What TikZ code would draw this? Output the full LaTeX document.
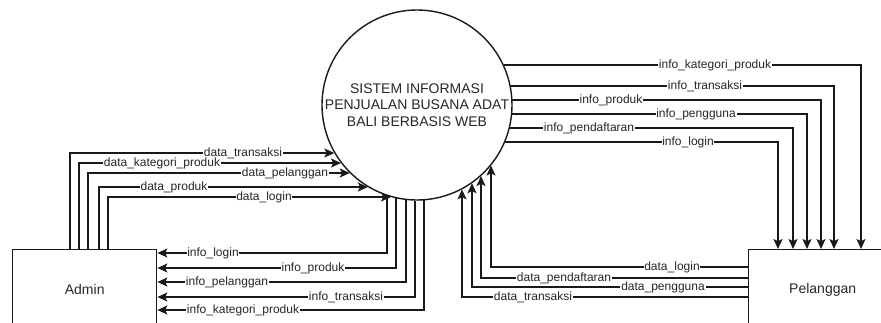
\documentclass[tikz,border=0pt]{standalone}
\usepackage{fontspec}
\setmainfont{Liberation Sans}
\usetikzlibrary{arrows.meta,calc}
\begin{document}
\begin{tikzpicture}[x=1pt,y=-1pt,
  flow/.style={draw=black!90, line width=1.4pt, -{Stealth[length=10pt,width=9pt,inset=2.2pt]}},
  lbl/.style={fill=white, inner sep=0.8pt, font=\fontsize{12}{14}\selectfont, text=black!85},
  entity/.style={draw=black!90, line width=1.4pt, anchor=north west, minimum height=80pt, inner sep=0pt, font=\fontsize{14}{16}\selectfont, text=black!85}
]
\useasboundingbox (0,0) rectangle (881,322);
\clip (0,0) rectangle (881,322);
\def\ccx{417}\def\ccy{105}\def\crad{95.6}

\node[draw=black!90, circle, line width=1.4pt, minimum size=190pt, inner sep=0pt, align=center,
      font=\fontsize{14}{16.5}\selectfont, text=black!85] (sys) at (417,105)
      {SISTEM INFORMASI\\PENJUALAN BUSANA ADAT\\BALI BERBASIS WEB};
\node[entity, minimum width=144pt] (admin) at (12,249) {Admin};
\node[entity, minimum width=148pt] (pel) at (748,249) {Pelanggan};

% Admin -> system
\foreach \x/\y/\t/\lx in {70/153/data\_transaksi/243, 79/163/data\_kategori\_produk/162,
    88/173/data\_pelanggan/285, 99/187/data\_produk/174, 108/197/data\_login/264}{
  \pgfmathsetmacro\ex{\ccx-sqrt(\crad*\crad-(\y-\ccy)*(\y-\ccy))}
  \coordinate (e) at (\ex,\y);
  \draw[flow] ([xshift={(\x-12)*1pt}]admin.north west) |- (e);
  \node[lbl] at (\lx,\y) {\t};
}

% system -> Admin
\foreach \x/\y/\t/\lx in {387/253/info\_login/213, 396/268/info\_produk/313,
    406/282/info\_pelanggan/227, 415/297/info\_transaksi/346, 424/310/info\_kategori\_produk/243}{
  \pgfmathsetmacro\sy{\ccy+sqrt(\crad*\crad-(\x-\ccx)*(\x-\ccx))}
  \coordinate (s) at (\x,\sy);
  \draw[flow] (s) |- (admin.east |- 0,\y);
  \node[lbl] at (\lx,\y) {\t};
}

% system -> Pelanggan
\foreach \x/\y/\t/\lx in {861/65/info\_kategori\_produk/715, 834/86/info\_transaksi/705,
    821/100/info\_produk/611, 807/114/info\_pengguna/696, 793/128/info\_pendaftaran/589,
    778/142/info\_login/688}{
  \pgfmathsetmacro\sx{\ccx+sqrt(\crad*\crad-(\y-\ccy)*(\y-\ccy))}
  \coordinate (s) at (\sx,\y);
  \draw[flow] (s) -| (pel.north -| \x,0);
  \node[lbl] at (\lx,\y) {\t};
}

% Pelanggan -> system
\foreach \x/\y/\t/\lx in {491/267/data\_login/672, 481/278/data\_pendaftaran/564,
    472/287/data\_pengguna/663, 462/297/data\_transaksi/533}{
  \pgfmathsetmacro\ey{\ccy+sqrt(\crad*\crad-(\x-\ccx)*(\x-\ccx))}
  \coordinate (e) at (\x,\ey);
  \draw[flow] (pel.west |- 0,\y) -| (e);
  \node[lbl] at (\lx,\y) {\t};
}
\end{tikzpicture}
\end{document}
